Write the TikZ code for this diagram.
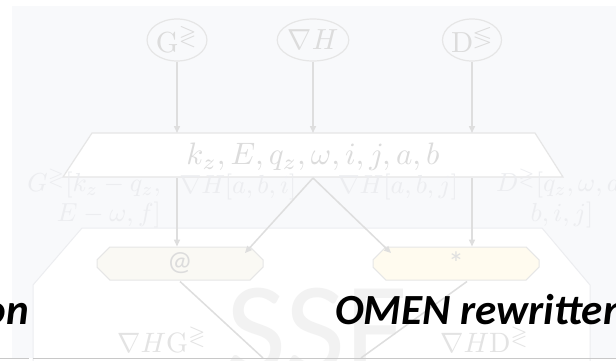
\documentclass[tikz,border=0pt]{standalone}
\usepackage{amssymb}
\usepackage{graphicx}
\usepackage{fontspec}
\newfontfamily\calibri{Carlito}
\usetikzlibrary{shapes.geometric,shapes.misc,arrows.meta,calc}

\definecolor{panel}{HTML}{F8F9FB}
\definecolor{lineg}{HTML}{DEDEDE}
\definecolor{edgeg}{HTML}{E6E6E6}
\definecolor{txtg}{HTML}{DCDCDC}
\definecolor{faint}{HTML}{ECEDF0}
\definecolor{creamA}{HTML}{FAF9F4}
\definecolor{creamB}{HTML}{FFFBEF}
\definecolor{ruleg}{HTML}{C8C8C8}

\newcommand\pt[1]{\fontsize{#1}{#1}\selectfont}
% math set at 10pt and enlarged
\newcommand\mbig[2][2.8]{\scalebox{#1}{$#2$}}
\newcommand\twoline[3]{\scalebox{2.6}{\begin{tabular}{@{}#1@{}}$#2$\\[-0.5pt]$#3$\end{tabular}}}

\tikzset{
  inputnode/.style={ellipse, draw=edgeg, line width=1.2pt, fill=panel,
    minimum width=57pt, minimum height=42pt, inner sep=0pt, text=txtg},
  opbox/.style={chamfered rectangle, chamfered rectangle xsep=10pt,
    draw=edgeg, line width=1pt, minimum width=166pt, minimum height=33pt,
    inner sep=0pt, font=\calibri\pt{28}},
  flow/.style={draw=lineg, line width=1.5pt,
    -{Triangle[length=7pt,width=6pt]}},
  plainflow/.style={draw=lineg, line width=1.5pt},
  dimlabel/.style={text=faint, inner sep=0pt},
  headline/.style={font=\calibri\bfseries\itshape\pt{43}, text=black, inner sep=0pt}
}

\begin{document}
\begin{tikzpicture}[x=1pt,y=-1pt]
\useasboundingbox (0,0) rectangle (616,361);
\clip (0,0) rectangle (616,361);

% page background and light panel
\fill[white] (0,0) rectangle (616,361);
\fill[panel] (12,6) rectangle (616,358);

% large white octagonal area
\draw[fill=white, draw=faint, line width=1pt]
  (82,228) -- (542,228) -- (590,285) -- (590,362) -- (33,362) -- (33,285) -- cycle;

% watermark
\node[font=\calibri\pt{130}, text=black!5, anchor=base west, inner sep=0pt]
  (wm) at (226,372) {SSE};

% inputs
\node[inputnode] (G) at (177,40) {\mbig[2.9]{\mathrm{G}^{\gtrless}}};
\node[inputnode] (N) at (313,40) {\mbig[2.9]{\nabla H}};
\node[inputnode] (D) at (472,40) {\mbig[2.9]{\mathrm{D}^{\lessgtr}}};

% index trapezoid
\coordinate (tc) at (313,155);
\draw[fill=white, draw=edgeg, line width=1.2pt]
  ($(tc)+(-221,-22)$) -- ($(tc)+(222,-22)$) -- ($(tc)+(250,22)$) -- ($(tc)+(-250,22)$) -- cycle;
\node[text=txtg, minimum width=443pt, minimum height=44pt, inner sep=0pt]
  (trap) at ($(tc)+(0,2)$) {\mbig[3.1]{k_z, E, q_z, \omega, i, j, a, b}};
\coordinate (tt) at ($(tc)+(0,-22)$);
\coordinate (tb) at ($(tc)+(0,23)$);

\draw[flow] (G) -- (G |- tt);
\draw[flow] (N) -- (tt);
\draw[flow] (D) -- (D |- tt);

% slice labels
\node[dimlabel, anchor=east] (lg) at (161,200)
  {\twoline{r}{G^{\gtrless}[k_z - q_z,}{E - \omega, f]}};
\node[dimlabel] (lh1) at (238,187) {\mbig[2.6]{\nabla H[a,b,i]}};
\node[dimlabel] (lh2) at (398,187) {\mbig[2.6]{\nabla H[a,b,j]}};
\node[dimlabel] (ld) at (562,200)
  {\twoline{c}{D^{\gtrless}[q_z, \omega, a,}{b, i, j]}};

% operations
\node[opbox, fill=creamA, text=txtg] (at) at (180,263.5) {@};
\node[opbox, fill=creamB, text=black!12, font=\calibri\pt{32}] (star) at (456,263.5) {*};

\draw[flow] (tb -| G) -- (at.north -| G);
\draw[flow] (tb) -- ($(at.north east)+(-12,0)$);
\draw[flow] (tb) -- ($(star.north west)+(12,0)$);
\draw[flow] (tb -| D) -- (star.north -| D);

\coordinate (endl) at (263,358);
\coordinate (endr) at (361,358);
\draw[plainflow] ($(at.south)+(0,1)$) -- (endl);
\draw[plainflow] ($(star.south)+(11,1)$) -- (endr);

% products
\node[text=black!11, anchor=base west, inner sep=0pt]
  (pg) at (117,352) {\mbig[2.8]{\nabla H\mathrm{G}^{\gtrless}}};
\node[text=black!11, anchor=base west, inner sep=0pt]
  (pd) at (440,352) {\mbig[2.8]{\nabla H\mathrm{D}^{\gtrless}}};

% headlines
\node[headline, anchor=base east] (hl) at (29,324) {on};
\node[headline, anchor=base west] (hr) at (335,324) {OMEN rewritten};

% bottom rule
\draw[ruleg, line width=1.4pt] (0,358.5) -- (29,358.5);
\draw[ruleg, line width=1.4pt] (33,358.5) -- (616,358.5);
\end{tikzpicture}
\end{document}
